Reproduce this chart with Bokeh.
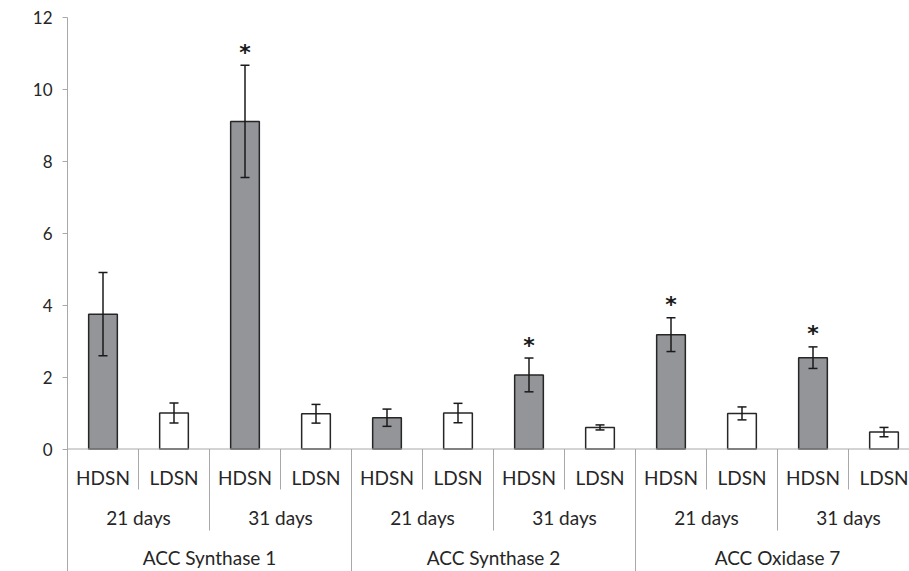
import math
from bokeh.plotting import figure
from bokeh.models import (ColumnDataSource, Range1d, FixedTicker, Whisker, TeeHead,
                          Span, Label)
from bokeh.core.properties import value
from bokeh.embed import file_html
from bokeh.resources import INLINE

# ---- data ----
genes = ["ACC Synthase 1", "ACC Synthase 2", "ACC Oxidase 7"]
days = ["21 days", "31 days"]
treatments = ["HDSN", "LDSN"]
fold_change = [3.75, 1.00, 9.11, 0.98, 0.87, 1.00, 2.06, 0.60, 3.18, 0.99, 2.54, 0.47]
std_error = [1.16, 0.28, 1.56, 0.26, 0.24, 0.27, 0.47, 0.07, 0.47, 0.18, 0.30, 0.13]
significant = [False, False, True, False, False, False, True, False, True, False, True, False]
y_ticks = [0, 2, 4, 6, 8, 10, 12]

# ---- build table ----
rows = [(g, d, t) for g in genes for d in days for t in treatments]
xs = [i + 0.5 for i in range(len(rows))]
colors = ["#939598" if t == "HDSN" else "#ffffff" for (_, _, t) in rows]
src = ColumnDataSource(dict(
    x=xs, top=fold_change, color=colors,
    upper=[v + e for v, e in zip(fold_change, std_error)],
    lower=[v - e for v, e in zip(fold_change, std_error)],
))

FONT = "Lato"
TXT = "#262626"
GRID = "#a8a8a8"

px_per_unit = (448.5 - 17) / 12.0
y_bottom = 12 - 554 / px_per_unit

p = figure(width=909, height=571, output_backend="svg", toolbar_location=None,
           x_range=Range1d(0, 842 / 71.0), y_range=Range1d(y_bottom, 12),
           min_border_left=67, min_border_right=0, min_border_top=17, min_border_bottom=0)
p.outline_line_color = None
p.xaxis.visible = False
p.xgrid.visible = False
p.ygrid.visible = False

ya = p.yaxis[0]
ya.ticker = FixedTicker(ticks=y_ticks)
ya.axis_line_color = GRID
ya.major_tick_line_color = GRID
ya.major_tick_out = 5
ya.major_tick_in = 0
ya.minor_tick_line_color = None
ya.major_label_text_font = FONT
ya.major_label_text_font_size = "17px"
ya.major_label_text_color = TXT
ya.major_label_standoff = 10

# baseline at zero
p.add_layout(Span(location=0, dimension="width", line_color=GRID, line_width=1))

# bars
p.vbar(x="x", top="top", bottom=0, width=0.404, fill_color="color",
       line_color="#262626", line_width=1.5, source=src)

# error bars
p.add_layout(Whisker(base="x", upper="upper", lower="lower", source=src, level="overlay",
                     line_color="#1a1a1a", line_width=1.5,
                     upper_head=TeeHead(size=9, line_color="#1a1a1a", line_width=1.5),
                     lower_head=TeeHead(size=9, line_color="#1a1a1a", line_width=1.5)))

# significance stars
sx = [x for x, s in zip(xs, significant) if s]
sy = [v + e for v, e, s in zip(fold_change, std_error, significant) if s]
p.text(x=sx, y=sy, text=["*"] * len(sx), text_align="center", text_baseline="alphabetic",
       y_offset=-13, text_font=value("DejaVu Sans"), text_font_size="22px",
       text_font_style="bold", text_color="#1a1a1a")

# hierarchical category labels
def px2y(py):
    return (448.5 - py) / px_per_unit

row_t, row_d, row_g = px2y(476.7), px2y(516.7), px2y(556.7)
p.text(x=xs, y=[row_t] * len(xs), text=[t for (_, _, t) in rows],
       text_align="center", text_baseline="middle",
       text_font=value(FONT), text_font_size="19px", text_color=TXT)

day_x, day_lbl = [], []
for gi, g in enumerate(genes):
    for di, d in enumerate(days):
        idx = [i for i, r in enumerate(rows) if r[0] == g and r[1] == d]
        day_x.append(sum(xs[i] for i in idx) / len(idx))
        day_lbl.append(d)
p.text(x=day_x, y=[row_d] * len(day_x), text=day_lbl,
       text_align="center", text_baseline="middle",
       text_font=value(FONT), text_font_size="19px", text_color=TXT)

gene_x = []
for g in genes:
    idx = [i for i, r in enumerate(rows) if r[0] == g]
    gene_x.append(sum(xs[i] for i in idx) / len(idx))
p.text(x=gene_x, y=[row_g] * len(gene_x), text=genes,
       text_align="center", text_baseline="middle",
       text_font=value(FONT), text_font_size="19px", text_color=TXT)

# divider lines between categories
bx, by0, by1 = [], [], []
for k in range(len(rows) + 1):
    if k == 0 or k == len(rows) or rows[k - 1][0] != rows[k][0]:
        end = y_bottom
    elif rows[k - 1][1] != rows[k][1]:
        end = px2y(530)
    else:
        end = px2y(489)
    bx.append(k)
    by0.append(0)
    by1.append(end)
p.segment(x0=bx, y0=by0, x1=bx, y1=by1, line_color=GRID, line_width=1)

# y axis title
p.add_layout(Label(x=-50 / 71.0, y=6, text="Fold change", angle=math.pi / 2,
                   text_align="center", text_baseline="middle",
                   text_font=FONT, text_font_size="14px", text_font_style="bold",
                   text_color=TXT))

open("out.html", "w").write(file_html(p, INLINE))
